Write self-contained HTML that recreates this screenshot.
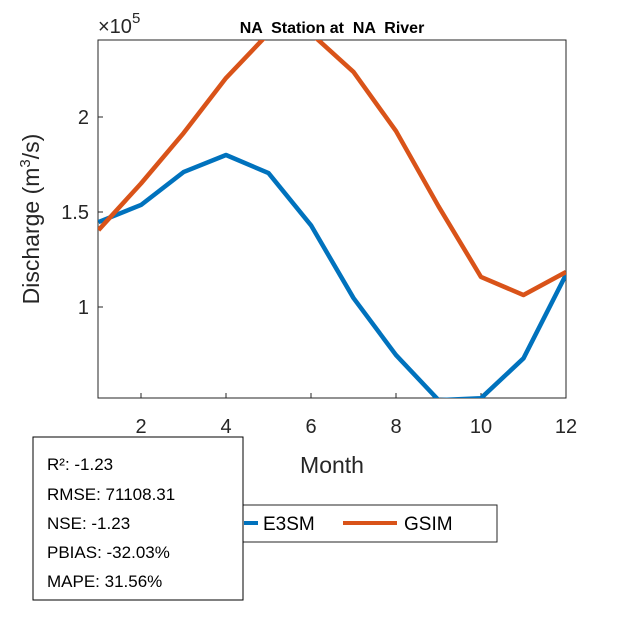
<!DOCTYPE html>
<html><head><meta charset="utf-8"><style>body{margin:0;background:#fff}svg{font-family:"Liberation Sans",sans-serif}</style></head>
<body>
<svg width="625" height="625">
<defs><clipPath id="pc"><rect x="98" y="40" width="468" height="358"/></clipPath></defs>
<rect x="98" y="40" width="468" height="358" fill="#fff" stroke="#262626" stroke-width="1"/>
<g id="ticks"></g>
<g id="series" clip-path="url(#pc)"></g>
<text x="332" y="33" text-anchor="middle" font-size="16" font-weight="bold" style="white-space:pre">NA  Station at  NA  River</text>
<text x="98" y="33" font-size="20" fill="#262626">×10<tspan dy="-10" font-size="15">5</tspan></text>
<text x="332" y="473" text-anchor="middle" font-size="23" fill="#262626">Month</text>
<text transform="translate(39,219) rotate(-90)" text-anchor="middle" font-size="23" fill="#262626">Discharge (m<tspan dy="-9" font-size="15">3</tspan><tspan dy="9">/s)</tspan></text>
<g>
<rect x="238" y="505" width="259" height="37" fill="#fff" stroke="#262626"/>
<line x1="244" y1="523" x2="258" y2="523" stroke="#0072BD" stroke-width="4"/>
<text x="263" y="530" font-size="19">E3SM</text>
<line x1="343" y1="523" x2="397" y2="523" stroke="#D95319" stroke-width="4"/>
<text x="404" y="530" font-size="19">GSIM</text>
</g>
<g>
<rect x="33" y="437" width="210" height="163" fill="#fff" stroke="#000"/>
<text x="47" y="470" font-size="17">R²: -1.23</text>
<text x="47" y="500" font-size="17">RMSE: 71108.31</text>
<text x="47" y="529" font-size="17">NSE: -1.23</text>
<text x="47" y="558" font-size="17">PBIAS: -32.03%</text>
<text x="47" y="587" font-size="17">MAPE: 31.56%</text>
</g>
</svg>
<script>
const months=[1,2,3,4,5,6,7,8,9,10,11,12];
const e3sm=[1.447,1.537,1.71,1.80,1.705,1.43,1.047,0.747,0.51,0.52,0.73,1.17];
const gsim=[1.405,1.65,1.915,2.205,2.44,2.44,2.237,1.926,1.53,1.158,1.063,1.184];
const xTicks=[2,4,6,8,10,12];
const yTicks=[1,1.5,2];
const xs=m=>98.5+(m-1)*42.5;
const ys=v=>117+(2-v)*190;
const NS='http://www.w3.org/2000/svg';
const tg=document.getElementById('ticks');
xTicks.forEach(t=>{
 const l=document.createElementNS(NS,'line');
 l.setAttribute('x1',xs(t));l.setAttribute('x2',xs(t));l.setAttribute('y1',398);l.setAttribute('y2',393);l.setAttribute('stroke','#262626');
 
 
 tg.appendChild(l);
 const tx=document.createElementNS(NS,'text');
 tx.setAttribute('x',xs(t));tx.setAttribute('y',433);tx.setAttribute('text-anchor','middle');tx.setAttribute('font-size','20');tx.setAttribute('fill','#262626');
 tx.textContent=t;
 
 
 tg.appendChild(tx);
});
yTicks.forEach(t=>{
 const l=document.createElementNS(NS,'line');
 l.setAttribute('x1',98);l.setAttribute('x2',103);l.setAttribute('y1',ys(t));l.setAttribute('y2',ys(t));l.setAttribute('stroke','#262626');
 
 
 tg.appendChild(l);
 const tx=document.createElementNS(NS,'text');
 tx.setAttribute('x',89);tx.setAttribute('y',ys(t)+7);tx.setAttribute('text-anchor','end');tx.setAttribute('font-size','20');tx.setAttribute('fill','#262626');
 tx.textContent=t;
 
 
 tg.appendChild(tx);
});
const sg=document.getElementById('series');
[[e3sm,'#0072BD','e3sm-line'],[gsim,'#D95319','gsim-line']].forEach(([d,c,n])=>{
 const p=document.createElementNS(NS,'polyline');
 p.setAttribute('points',d.map((v,i)=>xs(months[i])+','+ys(v)).join(' '));
 p.setAttribute('fill','none');p.setAttribute('stroke',c);p.setAttribute('stroke-width','4.5');p.setAttribute('stroke-linejoin','round');
 
 
 sg.appendChild(p);
});
</script>
</body></html>
